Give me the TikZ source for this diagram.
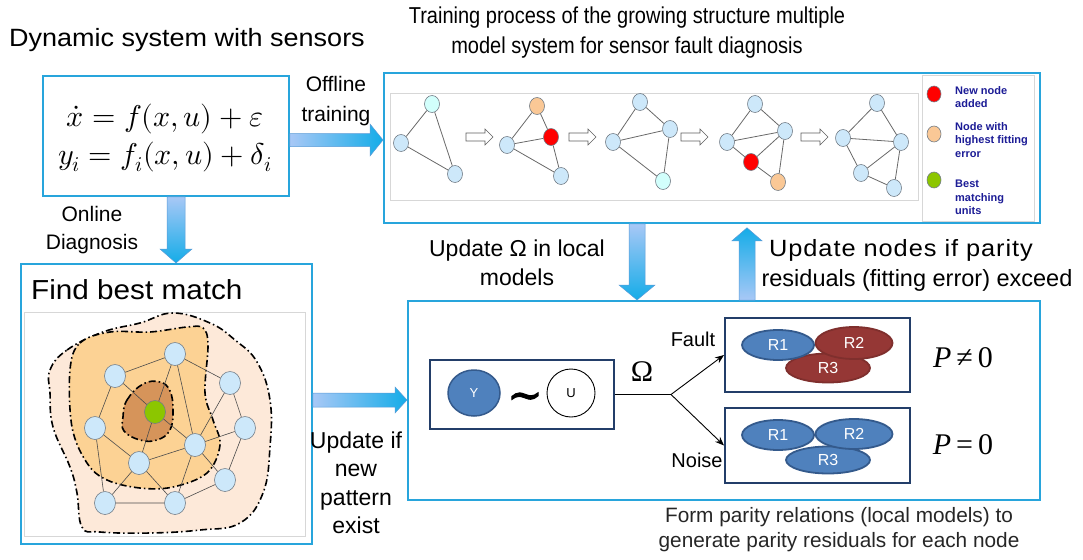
\documentclass[tikz,border=0pt]{standalone}
\usepackage{fontspec}
\usepackage{unicode-math}
\setmainfont{Liberation Sans}
\setmathfont{Latin Modern Math}
\newfontfamily\narrowsans[FakeStretch=0.87]{Liberation Sans}
\newfontfamily\widesans[FakeStretch=1.08]{Liberation Sans}
\newfontfamily\romanfont{Liberation Serif}
\newfontfamily\tildefont[FakeBold=2.5]{DejaVu Serif}
\usetikzlibrary{calc,shapes.geometric,arrows.meta}

\definecolor{boxblue}{RGB}{40,165,220}
\definecolor{navy}{RGB}{35,62,105}
\definecolor{ellblue}{RGB}{79,129,189}
\definecolor{ellborder}{RGB}{52,90,140}
\definecolor{faultred}{RGB}{149,55,53}
\definecolor{nodeblue}{RGB}{205,232,250}
\definecolor{nodecyan}{RGB}{210,255,252}
\definecolor{nodeorange}{RGB}{250,200,150}
\definecolor{nodegreen}{RGB}{140,198,0}
\definecolor{nodegray}{RGB}{115,125,135}
\definecolor{edgegray}{RGB}{105,105,105}
\definecolor{panelgray}{RGB}{215,215,215}
\definecolor{legblue}{RGB}{28,28,150}
\definecolor{arlight}{RGB}{168,200,246}
\definecolor{ardark}{RGB}{20,172,232}
\definecolor{arline}{RGB}{90,155,215}
\definecolor{blobout}{RGB}{253,233,217}
\definecolor{blobmid}{RGB}{252,210,148}
\definecolor{blobin}{RGB}{214,148,90}

\newcommand\fsz[2]{\fontsize{#1}{#2}\selectfont}
% horizontal block arrow: from, to, shaft half-width, head half-width, head length
\newcommand\hfat[5]{\path[fat,left color=arlight,right color=ardark] let \p1=(#1),\p2=(#2) in
  (\x1,\y1+#3pt) -- (\x2-#5pt,\y1+#3pt) -- (\x2-#5pt,\y1+#4pt) -- (\x2,\y1)
  -- (\x2-#5pt,\y1-#4pt) -- (\x2-#5pt,\y1-#3pt) -- (\x1,\y1-#3pt) -- cycle;}
% vertical block arrow: from, to, shaft half-width, head half-width, signed head length, shading
\newcommand\vfat[6]{\path[fat,#6] let \p1=(#1),\p2=(#2) in
  (\x1-#3pt,\y1) -- (\x1-#3pt,\y2+#5pt) -- (\x1-#4pt,\y2+#5pt) -- (\x1,\y2)
  -- (\x1+#4pt,\y2+#5pt) -- (\x1+#3pt,\y2+#5pt) -- (\x1+#3pt,\y1) -- cycle;}

\tikzset{hollowarr/.pic={\path[draw=gray!75!black,fill=white,line width=0.6pt]
  (0,-4)--(19,-4)--(19,-8)--(27,0)--(19,8)--(19,4)--(0,4)--cycle;}}

\begin{document}
\begin{tikzpicture}[x=1pt,y=-1pt,
  panel/.style={draw=boxblue,line width=1.8pt,fill=white,inner sep=0pt,anchor=north west},
  tnode/.style={ellipse,draw=nodegray,line width=0.6pt,fill=nodeblue,minimum width=15pt,minimum height=17pt,inner sep=0pt},
  bnode/.style={tnode,minimum width=21pt,minimum height=23pt},
  tedge/.style={draw=edgegray,line width=0.8pt},
  bedge/.style={draw=black!70,line width=0.6pt},
  fat/.style={draw=arline,line width=0.5pt},
  resid/.style={ellipse,draw=ellborder,line width=1.8pt,fill=ellblue,text=white,minimum width=74pt,minimum height=30pt,inner sep=0pt,font=\fsz{16}{18}},
  faulty/.style={resid,fill=faultred,draw=faultred!85!black},
  outline/.style={draw=navy,line width=2pt,inner sep=0pt,anchor=north west},
  legtxt/.style={anchor=north west,align=left,text=legblue,font=\bfseries\fsz{11}{13.5},inner sep=0pt},
  blobline/.style={line width=1.6pt,dash pattern=on 7pt off 3pt on 1.5pt off 3pt},
  lbl/.style={align=center,inner sep=0pt},
]
\useasboundingbox (0,0) rectangle (1083,559);

% ---------- titles ----------
\node[lbl,font=\widesans\fsz{25}{28}] (sysTitle) at (187,40) {Dynamic system with sensors};
\node[lbl,font=\narrowsans\fsz{23}{30}] (trainTitle) at (627,33) {Training process of the growing structure multiple\\model system for sensor fault diagnosis};

% ---------- system equations ----------
\node[panel,minimum width=246pt,minimum height=120pt] (eq) at (42,75) {};
\node[lbl,font=\fsz{30}{38}] (eqtext) at (165,138) {$\dot{x} = f(x,u) + \varepsilon$\\$y_i = f_i(x,u) + \delta_i$};
\node[lbl,font=\fsz{21}{30}] (offlbl) at (336,101) {Offline\\training};
\node[lbl,font=\fsz{21}{28}] (onlbl) at (92,230) {Online\\Diagnosis};

% ---------- training sequence ----------
\node[panel,minimum width=656pt,minimum height=150pt] (train) at (383,72) {};
\node[draw=panelgray,line width=0.6pt,minimum width=528pt,minimum height=107pt,anchor=north west,inner sep=0pt] (seq) at (390,93) {};
\node[draw=panelgray,fill=white,line width=0.8pt,minimum width=112pt,minimum height=146pt,anchor=north west,inner sep=0pt] (legend) at (922,75) {};

% graph 1
\node[tnode,fill=nodecyan] (a1) at (432,104) {};
\node[tnode] (a2) at (401,143) {};
\node[tnode] (a3) at (455,174) {};
\draw[tedge] (a1)--(a2) (a1)--(a3) (a2)--(a3);
\pic at (466,137) {hollowarr};
% graph 2
\node[tnode,fill=nodeorange] (b1) at (537,106) {};
\node[tnode,fill=red] (b2) at (551,137) {};
\node[tnode] (b3) at (507,145) {};
\node[tnode] (b4) at (561,176) {};
\draw[tedge] (b1)--(b3) (b1)--(b2) (b3)--(b2) (b2)--(b4) (b3)--(b4);
\pic at (569,137) {hollowarr};
% graph 3
\node[tnode] (c1) at (640,102) {};
\node[tnode] (c2) at (670,129) {};
\node[tnode] (c3) at (613,142) {};
\node[tnode,fill=nodecyan] (c4) at (663,181) {};
\draw[tedge] (c1)--(c3) (c1)--(c2) (c3)--(c2) (c3)--(c4) (c2)--(c4);
\pic at (681,137) {hollowarr};
% graph 4
\node[tnode] (d1) at (755,104) {};
\node[tnode] (d2) at (785,131) {};
\node[tnode] (d3) at (727,142) {};
\node[tnode,fill=red] (d4) at (751,162) {};
\node[tnode,fill=nodeorange] (d5) at (778,182) {};
\draw[tedge] (d1)--(d3) (d1)--(d2) (d3)--(d2) (d3)--(d4) (d4)--(d2) (d4)--(d5) (d2)--(d5);
\pic at (801,137) {hollowarr};
% graph 5
\node[tnode] (e1) at (877,103) {};
\node[tnode] (e2) at (843,138) {};
\node[tnode] (e3) at (901,142) {};
\node[tnode] (e4) at (861,173) {};
\node[tnode] (e5) at (894,188) {};
\draw[tedge] (e1)--(e2) (e1)--(e3) (e2)--(e3) (e2)--(e4) (e4)--(e3) (e4)--(e5) (e3)--(e5);

% legend
\node[tnode,fill=red,minimum width=14pt,minimum height=16pt] (legRed) at (934,94) {};
\node[legtxt] (legRedTxt) at (955,86) {New node\\added};
\node[tnode,fill=nodeorange,minimum width=14pt,minimum height=16pt] (legOrange) at (934,134) {};
\node[legtxt] (legOrangeTxt) at (955,122) {Node with\\highest fitting\\error};
\node[tnode,fill=nodegreen,minimum width=14pt,minimum height=16pt] (legGreen) at (934,180) {};
\node[legtxt] (legGreenTxt) at (955,180) {Best\\matching\\units};

% ---------- best match ----------
\node[panel,minimum width=291pt,minimum height=280pt] (fbm) at (20,263) {};
\node[anchor=west,inner sep=0pt,font=\widesans\fsz{27.5}{30}] (fbmTitle) at (31,290) {Find best match};
\node[draw=panelgray,line width=0.6pt,minimum width=281pt,minimum height=224pt,anchor=north west,inner sep=0pt] (som) at (24,312) {};

\path[fill=blobout,draw=black,blobline] plot[smooth cycle,tension=0.7] coordinates {
 (50,370) (67,350) (103,332) (140,323) (173,313) (210,323) (235,340) (257,362) (270,400)
 (270,447) (263,493) (240,523) (200,530) (150,533) (100,532) (82,527) (77,493) (70,467) (53,427) (50,393)};
\path[fill=blobmid,draw=black,blobline] plot[smooth cycle,tension=0.6] coordinates {
 (70,370) (80,343) (110,332) (150,332) (187,327) (203,328) (208,345) (205,393) (213,420)
 (220,445) (207,473) (173,487) (140,488) (107,480) (87,463) (72,427)};
\path[fill=blobin,draw=black,blobline] plot[smooth cycle,tension=0.7] coordinates {
 (123,417) (127,400) (143,384) (160,382) (170,391) (173,410) (170,430) (157,440) (140,440) (124,431)};

\node[bnode] (m1) at (175,354) {};
\node[bnode] (m2) at (115,376) {};
\node[bnode] (m3) at (230,383) {};
\node[bnode,fill=nodegreen] (m4) at (155,412) {};
\node[bnode] (m5) at (95,428) {};
\node[bnode] (m6) at (245,428) {};
\node[bnode] (m7) at (195,445) {};
\node[bnode] (m8) at (139,463) {};
\node[bnode] (m9) at (225,480) {};
\node[bnode] (m10) at (105,503) {};
\node[bnode] (m11) at (175,503) {};
\draw[bedge] (m1)--(m2) (m1)--(m3) (m1)--(m4) (m1)--(m7) (m2)--(m4) (m2)--(m5)
  (m3)--(m6) (m3)--(m7) (m4)--(m7) (m4)--(m8) (m5)--(m8) (m5)--(m10) (m7)--(m8)
  (m7)--(m6) (m7)--(m9) (m7)--(m11) (m8)--(m10) (m8)--(m11) (m6)--(m9) (m9)--(m11) (m10)--(m11);

\node[lbl,font=\fsz{23}{28.5}] (patlbl) at (356,483) {Update if\\new\\pattern\\exist};

% ---------- diagnosis ----------
\node[panel,minimum width=632pt,minimum height=199pt] (diag) at (407,300) {};
\node[outline,minimum width=184pt,minimum height=69pt] (yu) at (429,359) {};
\node[ellipse,fill=ellblue,draw=ellborder,line width=1.5pt,minimum width=52pt,minimum height=46pt,inner sep=0pt,text=white,font=\fsz{13}{15}] (ny) at (474,393) {Y};
\node[inner sep=0pt,font=\tildefont\fsz{42}{42}] (tilde) at (525,401) {∼};
\node[circle,draw=black,line width=0.9pt,minimum size=48pt,inner sep=0pt,font=\fsz{13}{15}] (nu) at (571,393) {U};

\node[outline,minimum width=185pt,minimum height=74pt] (fault) at (724,317) {};
\node[outline,minimum width=185pt,minimum height=75pt] (noise) at (724,407) {};
\coordinate (br) at ($(yu.east)+(56,0)$);
\draw[line width=0.9pt] (yu.east) -- (br);
\draw[line width=0.9pt,-{Stealth[length=9pt,width=7pt]}] (br) -- (fault.west);
\draw[line width=0.9pt,-{Stealth[length=9pt,width=7pt]}] (br) -- (noise.west);
\node[inner sep=0pt,font=\romanfont\fsz{30}{30}] (omega) at (642,372) {Ω};
\node[inner sep=0pt,font=\fsz{20}{22}] (faultlbl) at (693,339) {Fault};
\node[inner sep=0pt,font=\fsz{20}{22}] (noiselbl) at (697,460) {Noise};

\node[faulty,minimum width=84pt,minimum height=29pt] (f3) at (828,368) {R3};
\node[faulty,minimum width=77pt,minimum height=32pt] (f2) at (854,343) {R2};
\node[resid,minimum width=72pt,minimum height=30pt] (f1) at (778,345) {R1};
\node[resid,minimum width=84pt,minimum height=27pt] (n3) at (828,460) {R3};
\node[resid,minimum width=77pt,minimum height=30pt] (n2) at (854,434) {R2};
\node[resid,minimum width=72pt,minimum height=30pt] (n1) at (778,435) {R1};

\node[inner sep=0pt,font=\romanfont\fsz{30}{30}] (pfault) at (963,358) {\textit{P}\,≠\,0};
\node[inner sep=0pt,font=\romanfont\fsz{30}{30}] (pnoise) at (963,445) {\textit{P}\,=\,0};

\node[lbl,font=\fsz{23}{29}] (omlbl) at (517,263) {Update Ω in local\\models};
\node[lbl,font=\fsz{23.5}{30}] (resLbl) at (917,265) {{\widesans\addfontfeature{LetterSpace=4}Update nodes if parity}\hspace*{32pt}\\residuals (fitting error) exceed};
\node[lbl,font=\fsz{20.8}{25},text=black!85] (parLbl) at (839,530) {Form parity relations (local models) to\\generate parity residuals for each node};

% ---------- block arrows ----------
\coordinate (o1) at (eq.east |- 0,140);
\coordinate (o2) at (train.west |- 0,140);
\hfat{o1}{o2}{6.5}{16}{13}
\coordinate (d1) at (eq.south -| 176,0);
\coordinate (d2) at (fbm.north -| 176,0);
\vfat{d1}{d2}{9}{16}{14}{top color=arlight,bottom color=ardark}
\coordinate (p1) at (fbm.east |- 0,400);
\coordinate (p2) at (diag.west |- 0,400);
\hfat{p1}{p2}{7}{13}{12}
\coordinate (w1) at (train.south -| 637,0);
\coordinate (w2) at (diag.north -| 637,0);
\vfat{w1}{w2}{8}{18}{15}{top color=arlight,bottom color=ardark}
\coordinate (u1) at (diag.north -| 747,0);
\coordinate (u2) at ($(train.south -| 747,0)+(0,4)$);
\vfat{u1}{u2}{8}{15}{-13}{top color=ardark,bottom color=arlight}
\end{tikzpicture}
\end{document}
